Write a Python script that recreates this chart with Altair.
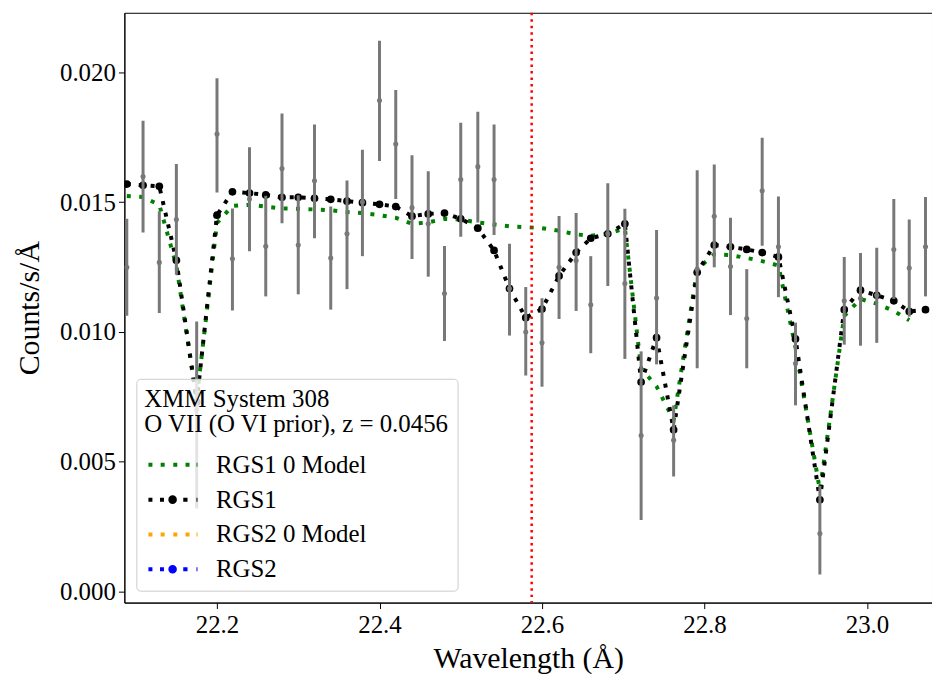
import altair as alt
import pandas as pd

# ---- data ----
wavelength = [22.089, 22.109, 22.129, 22.150, 22.175, 22.200, 22.219, 22.240, 22.260, 22.280,
              22.300, 22.320, 22.340, 22.360, 22.379, 22.400, 22.420, 22.440, 22.460, 22.480,
              22.500, 22.521, 22.541, 22.560, 22.580, 22.600, 22.621, 22.642, 22.660, 22.681,
              22.702, 22.722, 22.741, 22.762, 22.791, 22.812, 22.832, 22.852, 22.871, 22.891,
              22.912, 22.942, 22.972, 22.992, 23.012, 23.033, 23.052, 23.072]

rgs1_counts = [0.01249, 0.01599, 0.01268, 0.01433, 0.00700, 0.01763, 0.01282, 0.01512, 0.01330, 0.01630,
               0.01335, 0.01583, 0.01285, 0.01378, 0.01501, 0.01892, 0.01724, 0.01479, 0.01417, 0.01148,
               0.01587, 0.01637, 0.01587, 0.01167, 0.01000, 0.00958, 0.01249, 0.01275, 0.01105, 0.01378,
               0.01187, 0.00601, 0.01131, 0.00583, 0.01242, 0.01446, 0.01252, 0.01052, 0.01544, 0.01328,
               0.00878, 0.00223, 0.01120, 0.01130, 0.01141, 0.01318, 0.01246, 0.01328]

rgs1_err_lo = [0.01062, 0.01383, 0.01073, 0.01220, 0.00320, 0.01537, 0.01083, 0.01311, 0.01137, 0.01419,
               0.01145, 0.01361, 0.01086, 0.01165, 0.01292, 0.01659, 0.01512, 0.01281, 0.01213, 0.00965,
               0.01367, 0.01422, 0.01374, 0.00986, 0.00832, 0.00789, 0.01050, 0.01081, 0.00918, 0.01177,
               0.00896, 0.00275, 0.00875, 0.00443, 0.00860, 0.01249, 0.01065, 0.00860, 0.01332, 0.01134,
               0.00717, 0.00065, 0.00951, 0.00947, 0.00958, 0.01127, 0.01059, 0.01137]

rgs1_err_hi = [0.01436, 0.01814, 0.01465, 0.01647, 0.01040, 0.01978, 0.01476, 0.01712, 0.01525, 0.01842,
               0.01527, 0.01799, 0.01483, 0.01584, 0.01702, 0.02122, 0.01932, 0.01681, 0.01619, 0.01331,
               0.01806, 0.01849, 0.01799, 0.01340, 0.01173, 0.01130, 0.01447, 0.01458, 0.01292, 0.01573,
               0.01475, 0.00925, 0.01393, 0.00717, 0.01623, 0.01645, 0.01440, 0.01242, 0.01748, 0.01522,
               0.01036, 0.00407, 0.01289, 0.01304, 0.01324, 0.01512, 0.01433, 0.01520]

rgs1_model = [0.01570, 0.01565, 0.01561, 0.01276, 0.00730, 0.01450, 0.01540, 0.01535, 0.01528, 0.01519,
              0.01519, 0.01515, 0.01511, 0.01504, 0.01498, 0.01492, 0.01483, 0.01446, 0.01455, 0.01458,
              0.01436, 0.01400, 0.01314, 0.01167, 0.01055, 0.01088, 0.01216, 0.01306, 0.01361, 0.01378,
              0.01417, 0.00807, 0.00978, 0.00623, 0.01230, 0.01335, 0.01328, 0.01318, 0.01306, 0.01289,
              0.00973, 0.00353, 0.01086, 0.01161, 0.01141, 0.01120, 0.01079, 0.01086]

rgs1_base_model = [0.01524, 0.01520, 0.01490, 0.01256, 0.00740, 0.01420, 0.01486, 0.01490, 0.01483, 0.01476,
                   0.01475, 0.01472, 0.01469, 0.01462, 0.01458, 0.01450, 0.01440, 0.01417, 0.01422, 0.01436,
                   0.01433, 0.01422, 0.01414, 0.01407, 0.01404, 0.01400, 0.01390, 0.01376, 0.01371, 0.01378,
                   0.01400, 0.00860, 0.00790, 0.00660, 0.01242, 0.01299, 0.01296, 0.01285, 0.01273, 0.01256,
                   0.00940, 0.00390, 0.01062, 0.01127, 0.01109, 0.01081, 0.01045]

line_wavelength = [22.5873]

legend_labels = ["RGS1 0 Model", "RGS1", "RGS2 0 Model", "RGS2"]
legend_colors = ["green", "black", "orange", "blue"]
legend_title = ["XMM System 308", "O VII (O VI prior), z = 0.0456"]

x_domain = [22.086, 23.080]
y_domain = [-0.00043, 0.0223]
x_ticks = [22.2, 22.4, 22.6, 22.8, 23.0]
y_ticks = [0.0, 0.005, 0.010, 0.015, 0.020]

# ---- legend symbol shapes (dotted line, optionally with a marker) ----
# symbol size 400 -> one path unit = 10 px; paths extend to the right of the nominal box
SH = 0.17  # shift so the sample starts where the reference's does


def _sq(a, b, h=0.2):
    a, b = round(a + SH, 3), round(b + SH, 3)
    return f"M{a},{-h}L{b},{-h}L{b},{h}L{a},{h}Z"


def _circ(c, r):
    c = round(c + SH, 3)
    return f"M{c - r},0A{r},{r} 0 1,0 {c + r},0A{r},{r} 0 1,0 {c - r},0Z"


model_path = " ".join([_sq(-1, -0.6), _sq(0.23, 0.63), _sq(1.5, 1.9), _sq(2.73, 3.13), _sq(3.83, 3.93)])
data_path = " ".join([_sq(-1, -0.6), _sq(0.16, 0.56), _circ(1.43, 0.43), _sq(2.5, 2.93), _sq(3.83, 3.93)])
legend_shapes = [model_path, data_path, model_path, data_path]

# ---- tables ----
df_data = pd.DataFrame({"wl": wavelength, "flux": rgs1_counts, "lo": rgs1_err_lo, "hi": rgs1_err_hi})
df_model = pd.DataFrame({"wl": wavelength, "flux": rgs1_model})
df_base = pd.DataFrame({"wl": wavelength[:len(rgs1_base_model)], "flux": rgs1_base_model})
df_line = pd.DataFrame({"wl": line_wavelength})
df_leg = pd.DataFrame({"series": legend_labels, "wl": [float("nan")] * 4, "flux": [float("nan")] * 4})

FONT = "Liberation Serif"

x_enc = alt.X("wl:Q", scale=alt.Scale(domain=x_domain, nice=False, zero=False),
              axis=alt.Axis(values=x_ticks, format=".1f", title="Wavelength (Å)",
                            labelPadding=4, titleY=65, titleBaseline="alphabetic"))
y_axis = alt.Axis(values=y_ticks, format=".3f", title="Counts/s/Å", labelPadding=3,
                  titleX=-95, titleY=296.5, titleAngle=270, titleAlign="center",
                  titleBaseline="middle")
y_scale = alt.Scale(domain=y_domain, nice=False, zero=False)

base_line = alt.Chart(df_base).mark_line(
    color="green", strokeWidth=4, strokeDash=[4, 8.5], clip=True
).encode(x=x_enc, y=alt.Y("flux:Q", scale=y_scale, axis=y_axis))

model_line = alt.Chart(df_model).mark_line(
    color="black", strokeWidth=4, strokeDash=[4, 8], clip=True
).encode(x=x_enc, y=alt.Y("flux:Q", scale=y_scale, axis=y_axis))

model_pts = alt.Chart(df_model).mark_point(
    filled=True, color="black", size=60, opacity=1, clip=True
).encode(x=x_enc, y=alt.Y("flux:Q", scale=y_scale, axis=y_axis))

err_bars = alt.Chart(df_data).mark_rule(
    color="#787878", strokeWidth=3, clip=True
).encode(x=x_enc, y=alt.Y("lo:Q", scale=y_scale, axis=y_axis), y2="hi:Q")

data_pts = alt.Chart(df_data).mark_point(
    filled=True, color="#787878", size=26, opacity=1, clip=True
).encode(x=x_enc, y=alt.Y("flux:Q", scale=y_scale, axis=y_axis))

red_line = alt.Chart(df_line).mark_rule(
    color="red", strokeWidth=2.5, strokeDash=[2.5, 4]
).encode(x=x_enc)

leg = alt.Legend(
    title=legend_title, orient="none", legendX=12, legendY=368, direction="vertical",
    symbolSize=400, symbolStrokeWidth=0, symbolOffset=0,
    labelFont=FONT, labelFontSize=25, labelColor="black", labelOffset=47, labelLimit=400,
    titleFont=FONT, titleFontSize=25, titleFontWeight="normal", titleColor="black",
    titleLineHeight=25, titlePadding=16, titleAnchor="start", titleLimit=500,
    padding=8, rowPadding=9,
    fillColor="rgba(255,255,255,0.8)", strokeColor="#cccccc", cornerRadius=4,
)

legend_layer = alt.Chart(df_leg).mark_point(filled=True, opacity=1).encode(
    x=x_enc, y=alt.Y("flux:Q", scale=y_scale, axis=y_axis),
    color=alt.Color("series:N", scale=alt.Scale(domain=legend_labels, range=legend_colors), legend=leg),
    shape=alt.Shape("series:N", scale=alt.Scale(domain=legend_labels, range=legend_shapes), legend=leg),
)

chart = alt.layer(
    base_line, model_line, model_pts, err_bars, data_pts, red_line, legend_layer
).properties(
    width=812, height=593,
    autosize=alt.AutoSizeParams(type="none"),
    padding={"left": 117, "top": 3, "right": 0, "bottom": 70},
).configure_axis(
    labelFont=FONT, labelFontSize=25, labelColor="black",
    titleFont=FONT, titleFontSize=30, titleFontWeight="normal", titleColor="black",
    tickColor="black", domainColor="black", tickSize=6, tickWidth=1, domainWidth=1, grid=False,
).configure_view(stroke="black", strokeWidth=1)

chart.save("out.html", embed_options={"renderer": "svg", "actions": False})
